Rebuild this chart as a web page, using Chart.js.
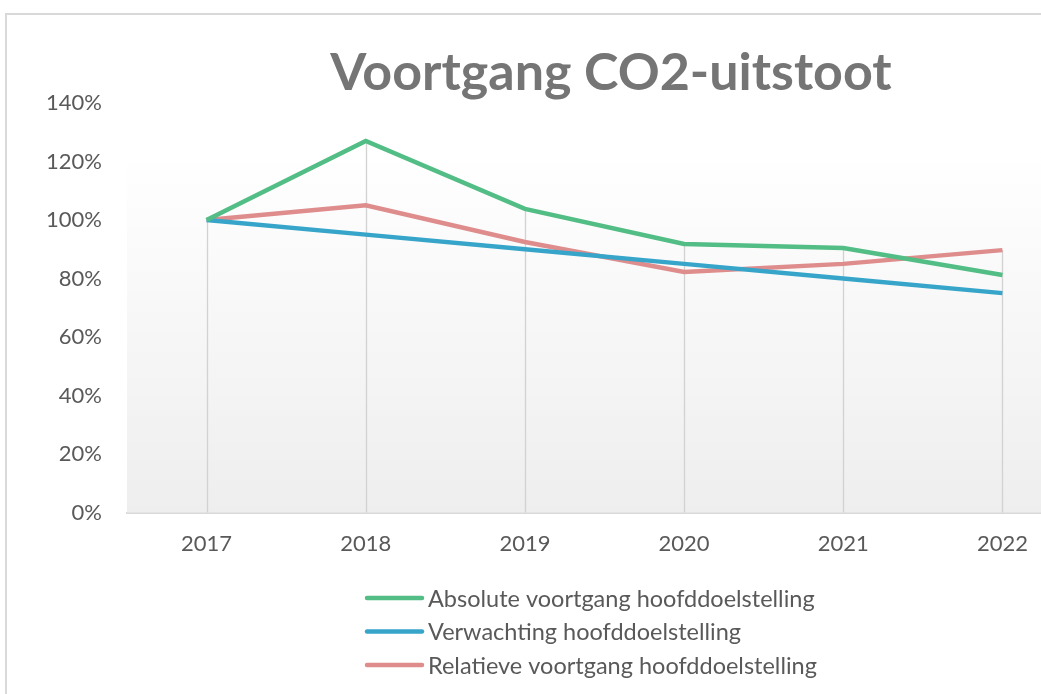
<!DOCTYPE html>
<html>
<head>
<meta charset="utf-8">
<script src="https://cdn.jsdelivr.net/npm/chart.js@4"></script>
<style>
  html, body { margin: 0; padding: 0; background: #fff; overflow: hidden; }
  #frame { position: absolute; left: 5px; top: 13px; width: 1100px; height: 700px;
           border-top: 2px solid #d9d9d9; border-left: 2px solid #d9d9d9; }
  #wrap { position: absolute; left: 0; top: 0; width: 1100px; height: 694px; }
</style>
</head>
<body>
<div id="frame"></div>
<div id="wrap"><canvas id="co2" width="1100" height="694"></canvas></div>
<script>
const chartTitle = 'Voortgang CO2-uitstoot';
const years = ['2017', '2018', '2019', '2020', '2021', '2022'];
const absolute = [100, 127, 103.8, 91.8, 90.4, 81.2];
const expected = [100, 95, 90, 85, 80, 75];
const relative = [100, 105, 92.5, 82.2, 85, 89.7];
const yTicks = [0, 20, 40, 60, 80, 100, 120, 140];

// plot background: white to light grey, plus drop lines
const plotBg = {
  id: 'plotBg',
  beforeDatasetsDraw(chart) {
    const { ctx, chartArea: a } = chart;
    const g = ctx.createLinearGradient(0, a.top, 0, a.bottom);
    g.addColorStop(0, '#ffffff');
    g.addColorStop(0.12, '#ffffff');
    g.addColorStop(1, '#eeeeee');
    ctx.save();
    ctx.fillStyle = g;
    ctx.fillRect(a.left, a.top, a.right - a.left, a.bottom - a.top);
    const x = chart.scales.x, y = chart.scales.y;
    ctx.strokeStyle = '#d2d2d2';
    ctx.lineWidth = 1.3;
    years.forEach((yr, i) => {
      const top = Math.max(...chart.data.datasets.map(d => d.data[i]));
      const px = Math.round(x.getPixelForValue(i)) + 0.5;
      ctx.beginPath();
      ctx.moveTo(px, y.getPixelForValue(top));
      ctx.lineTo(px, y.getPixelForValue(0));
      ctx.stroke();
    });
    ctx.restore();
  }
};

// title and a legend with one entry per row
const decor = {
  id: 'decor',
  afterDraw(chart) {
    const ctx = chart.ctx;
    ctx.save();
    ctx.textBaseline = 'middle';
    ctx.textAlign = 'center';
    ctx.fillStyle = '#757575';
    ctx.font = 'bold 52px Lato';
    ctx.fillText(chartTitle, 611, 73);

    ctx.textAlign = 'left';
    ctx.font = '23.5px Lato';
    ctx.fillStyle = '#595959';
    chart.data.datasets.forEach((d, i) => {
      const cy = 598 + i * 33.5;
      ctx.strokeStyle = d.borderColor;
      ctx.lineWidth = 4.5;
      ctx.lineCap = 'round';
      ctx.beginPath();
      ctx.moveTo(367, cy);
      ctx.lineTo(422, cy);
      ctx.stroke();
      ctx.fillText(d.label, 428, cy + 1);
    });
    ctx.restore();
  }
};

const ctx = document.getElementById('co2').getContext('2d');
new Chart(ctx, {
  type: 'line',
  data: {
    labels: years,
    datasets: [
      { label: 'Absolute voortgang hoofddoelstelling', data: absolute, borderColor: '#52bd84' },
      { label: 'Verwachting hoofddoelstelling', data: expected, borderColor: '#37a5c9' },
      { label: 'Relatieve voortgang hoofddoelstelling', data: relative, borderColor: '#de8c8c' }
    ].map(d => Object.assign(d, { borderWidth: 4.5, pointRadius: 0, tension: 0, fill: false }))
  },
  options: {
    responsive: false,
    animation: false,
    layout: { padding: { left: 0, right: 18, top: 103, bottom: 130 } },
    plugins: {
      legend: { display: false },
      tooltip: { enabled: false },
      title: { display: false }
    },
    scales: {
      x: {
        offset: true,
        grid: { display: false, drawTicks: false },
        border: { display: true, color: '#d9d9d9', width: 2 },
        ticks: { color: '#595959', font: { family: 'Lato', size: 22 }, padding: 18 },
        afterFit(s) { s.height = 694 - 130 - 512.5; }
      },
      y: {
        min: 0,
        max: 140,
        grid: { display: false, drawTicks: false },
        border: { display: false },
        afterBuildTicks(s) { s.ticks = yTicks.map(v => ({ value: v })); },
        ticks: {
          color: '#595959',
          font: { family: 'Lato', size: 22 },
          padding: 25,
          callback: v => v + '%'
        },
        afterFit(s) { s.width = 127; }
      }
    }
  },
  plugins: [plotBg, decor]
});
</script>
</body>
</html>
